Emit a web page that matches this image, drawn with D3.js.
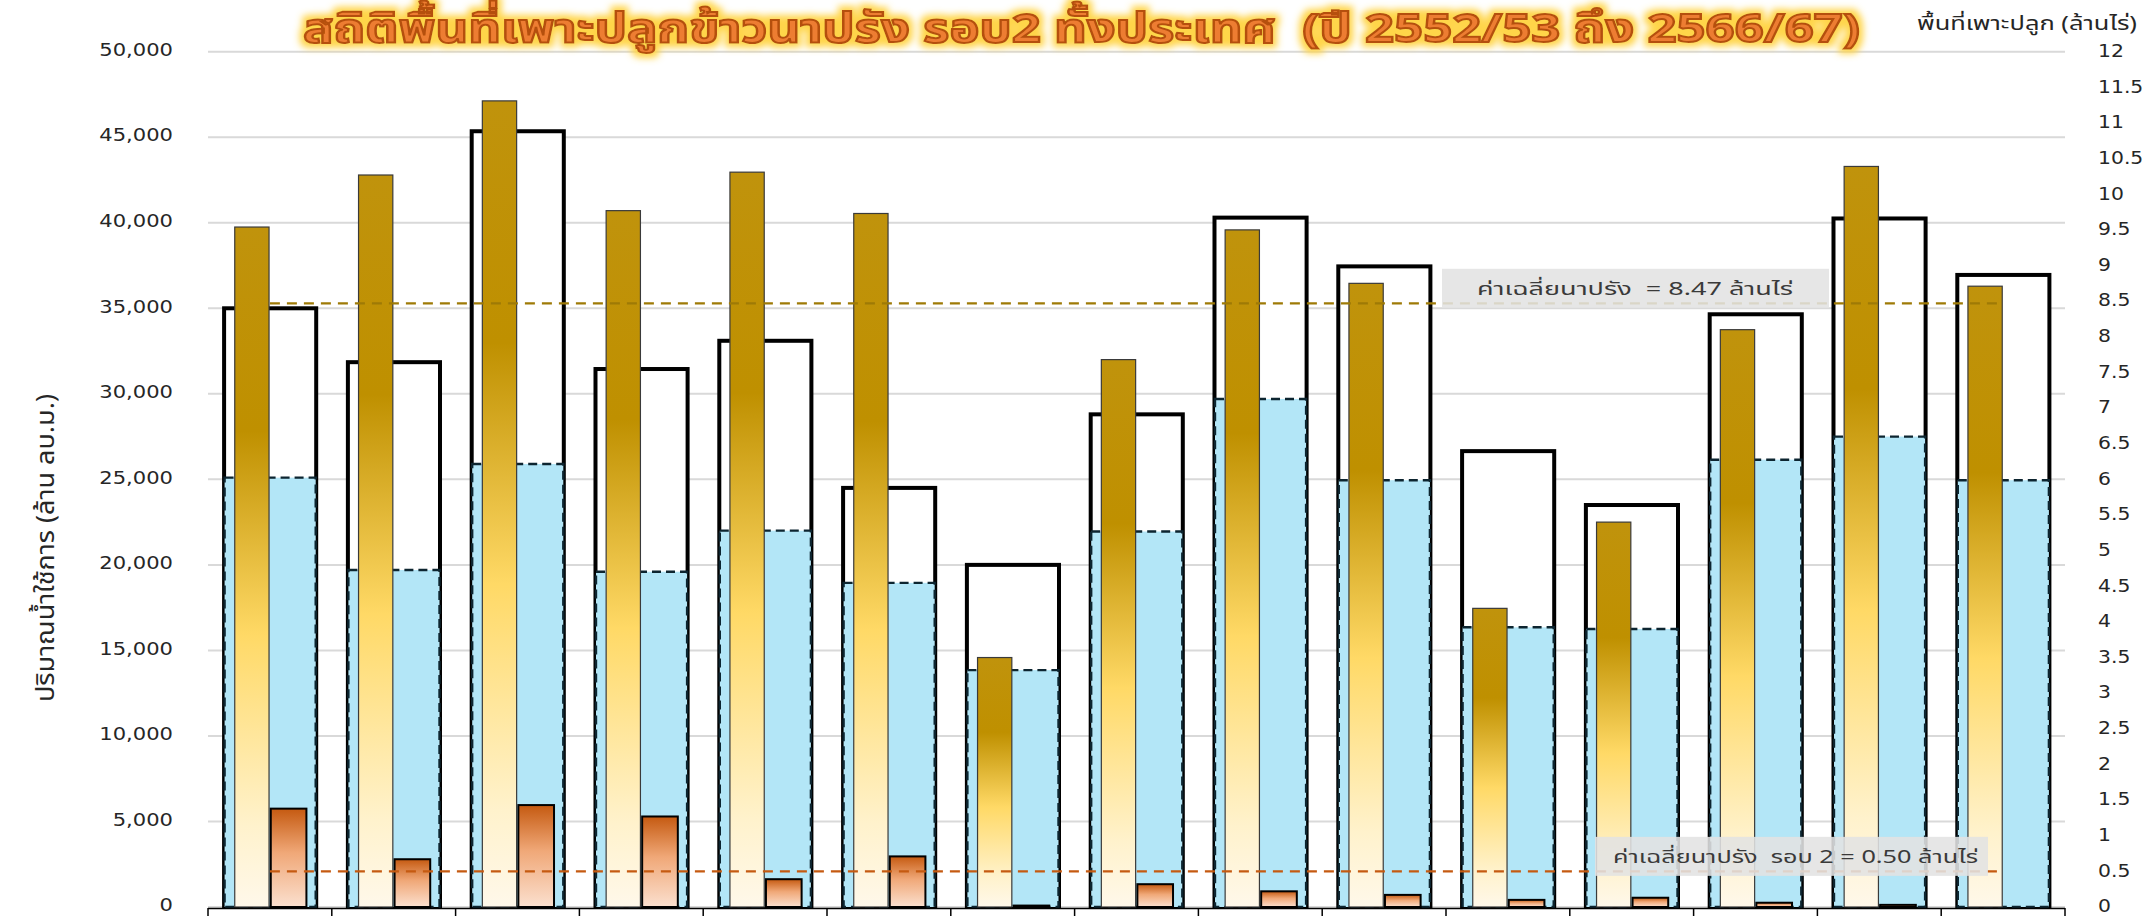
<!DOCTYPE html>
<html>
<head>
<meta charset="utf-8">
<script src="https://cdn.jsdelivr.net/npm/d3@7"></script>
<style>
  html, body { margin: 0; padding: 0; background: #ffffff; }
  svg { display: block; }
  text { white-space: pre; }
</style>
</head>
<body>
<svg id="chart" width="2144" height="916"></svg>
<script>
// ---------- data ----------
const categories = ["2552/53","2553/54","2554/55","2555/56","2556/57","2557/58","2558/59","2559/60","2560/61","2561/62","2562/63","2563/64","2564/65","2565/66","2566/67"];
// outlined bars (left axis, million m3)
const totalWater = [35000, 31850, 45350, 31450, 33100, 24500, 20000, 28800, 40300, 37450, 26650, 23500, 34650, 40250, 36950];
// blue fill (left axis, million m3)
const usableWater = [25100, 19700, 25900, 19600, 22000, 18950, 13850, 21950, 29700, 24950, 16350, 16250, 26150, 27500, 24950];
// gold bars: dry-season rice area (right axis, million rai)
const dryArea = [9.54, 10.27, 11.31, 9.77, 10.31, 9.73, 3.50, 7.68, 9.50, 8.75, 4.19, 5.40, 8.10, 10.39, 8.71];
// orange bars: round-2 area (right axis, million rai)
const round2Area = [1.38, 0.67, 1.43, 1.27, 0.39, 0.71, 0.02, 0.32, 0.22, 0.17, 0.10, 0.13, 0.06, 0.03, 0];
const avgDry = 8.47;
const avgRound2 = 0.50;
const leftTicks = [0, 5000, 10000, 15000, 20000, 25000, 30000, 35000, 40000, 45000, 50000];
const rightTicks = ["0","0.5","1","1.5","2","2.5","3","3.5","4","4.5","5","5.5","6","6.5","7","7.5","8","8.5","9","9.5","10","10.5","11","11.5","12"];

const titleText = "สถิติพื้นที่เพาะปลูกข้าวนาปรัง รอบ2 ทั้งประเทศ  (ปี 2552/53 ถึง 2566/67)";
const leftTitle = "ปริมาณน้ำใช้การ (ล้าน ลบ.ม.)";
const rightTitle = "พื้นที่เพาะปลูก (ล้านไร่)";
const avgDryLabel = "ค่าเฉลี่ยนาปรัง  = 8.47 ล้านไร่";
const avgR2Label = "ค่าเฉลี่ยนาปรัง  รอบ 2 = 0.50 ล้านไร่";

// ---------- layout ----------
const W = 2144, H = 916;
const plotL = 208, plotR = 2065, plotT = 51.7, plotB = 907;
const thaiFont = "Tahoma, 'Leelawadee UI', 'Noto Sans Thai', 'Noto Sans Thai UI', 'Noto Sans Thai Looped', Loma, Garuda, Waree, 'DejaVu Sans', sans-serif";
const numFont = "Verdana, 'DejaVu Sans', sans-serif";

const svg = d3.select("#chart");
const defs = svg.append("defs");

const gGold = defs.append("linearGradient").attr("id","gold").attr("x1",0).attr("y1",0).attr("x2",0).attr("y2",1);
[[0,"#c0930c"],[0.3,"#bf9000"],[0.6,"#ffd966"],[0.88,"#fff2cc"],[1,"#fff8ea"]].forEach(s =>
  gGold.append("stop").attr("offset",s[0]).attr("stop-color",s[1]));
const gOr = defs.append("linearGradient").attr("id","orng").attr("x1",0).attr("y1",0).attr("x2",0).attr("y2",1);
[[0,"#c55a11"],[0.45,"#f0a878"],[1,"#fbe0cf"]].forEach(s =>
  gOr.append("stop").attr("offset",s[0]).attr("stop-color",s[1]));

const glow = defs.append("filter").attr("id","glow").attr("x","-5%").attr("y","-40%").attr("width","110%").attr("height","180%");
glow.append("feMorphology").attr("in","SourceAlpha").attr("operator","dilate").attr("radius",3.5).attr("result","d");
glow.append("feGaussianBlur").attr("in","d").attr("stdDeviation",3.5).attr("result","b");
glow.append("feFlood").attr("flood-color","#ffd54a").attr("flood-opacity",1);
glow.append("feComposite").attr("in2","b").attr("operator","in").attr("result","g");
const fm = glow.append("feMerge");
fm.append("feMergeNode").attr("in","g");
fm.append("feMergeNode").attr("in","SourceGraphic");

// ---------- scales ----------
const x = d3.scaleBand().domain(categories).range([plotL, plotR]).padding(0);
const bw = x.bandwidth();
const yL = d3.scaleLinear().domain([0, 50000]).range([plotB, plotT]);
const yR = d3.scaleLinear().domain([0, 12]).range([plotB, plotT]);

function stretch(sel, k) {
  sel.each(function() {
    const len = this.getComputedTextLength();
    if (len > 0) d3.select(this).attr("textLength", len * k).attr("lengthAdjust", "spacingAndGlyphs");
  });
}
function fitWidth(sel, w) {
  sel.attr("textLength", w).attr("lengthAdjust", "spacingAndGlyphs");
}

// ---------- gridlines ----------
svg.append("g").selectAll("line").data(leftTicks).join("line")
  .attr("x1", plotL).attr("x2", plotR)
  .attr("y1", d => yL(d)).attr("y2", d => yL(d))
  .attr("stroke", "#d9d9d9").attr("stroke-width", 2);

// ---------- left axis ----------
const leftAxis = d3.axisLeft(yL).tickValues(leftTicks).tickSize(0).tickPadding(0)
  .tickFormat(d3.format(","));
const gLA = svg.append("g").attr("transform", `translate(173,-2)`).call(leftAxis);
gLA.select(".domain").remove();
gLA.selectAll("text").attr("font-family", numFont).attr("font-size", 18).attr("fill", "#262626");
stretch(gLA.selectAll("text"), 1.17);

// ---------- right axis ----------
const yR2 = d3.scalePoint().domain(rightTicks).range([plotB, plotT]);
const rightAxis = d3.axisRight(yR2).tickSize(0).tickPadding(0);
const gRA = svg.append("g").attr("transform", `translate(2098,-1)`).call(rightAxis);
gRA.select(".domain").remove();
gRA.selectAll("text").attr("font-family", numFont).attr("font-size", 18).attr("fill", "#262626");
stretch(gRA.selectAll("text"), 1.13);

// ---------- bars ----------
const groups = svg.append("g").selectAll("g").data(categories).join("g");

groups.append("rect")
  .attr("x", (d) => x(d) + bw * 0.13)
  .attr("width", bw * 0.744)
  .attr("y", (d,i) => yL(totalWater[i]))
  .attr("height", (d,i) => yL(0) - yL(totalWater[i]))
  .attr("fill", "#ffffff").attr("stroke", "#000").attr("stroke-width", 4);

groups.append("rect")
  .attr("x", (d) => x(d) + bw * 0.13 + 0.5)
  .attr("width", bw * 0.744 - 1)
  .attr("y", (d,i) => yL(usableWater[i]))
  .attr("height", (d,i) => yL(0) - yL(usableWater[i]))
  .attr("fill", "#b3e6f7").attr("stroke", "#0d2530").attr("stroke-width", 2.4)
  .attr("stroke-dasharray", "9,5");

groups.append("rect")
  .attr("x", (d) => x(d) + bw * 0.216)
  .attr("width", bw * 0.277)
  .attr("y", (d,i) => yR(dryArea[i]))
  .attr("height", (d,i) => yR(0) - yR(dryArea[i]))
  .attr("fill", "url(#gold)").attr("stroke", "#3a3a3a").attr("stroke-width", 1.2);

groups.filter((d,i) => round2Area[i] > 0).append("rect")
  .attr("x", (d) => x(d) + bw * 0.507)
  .attr("width", bw * 0.288)
  .attr("y", (d) => yR(round2Area[categories.indexOf(d)]))
  .attr("height", (d) => yR(0) - yR(round2Area[categories.indexOf(d)]))
  .attr("fill", "url(#orng)").attr("stroke", "#000").attr("stroke-width", 2);

// ---------- x axis table (labels fall below the visible area) ----------
svg.append("line").attr("x1", plotL).attr("x2", plotR).attr("y1", 908.5).attr("y2", 908.5)
  .attr("stroke", "#000").attr("stroke-width", 1.5);
svg.append("g").selectAll("line").data(categories.concat(["__end"])).join("line")
  .attr("x1", (d,i) => i < categories.length ? x(d) : plotR)
  .attr("x2", (d,i) => i < categories.length ? x(d) : plotR)
  .attr("y1", 908).attr("y2", 940)
  .attr("stroke", "#000").attr("stroke-width", 1.5);

// ---------- average lines ----------
const avgLine = (val) => d3.line()
  .x(d => x(d) + bw / 2)
  .y(() => yR(val));
svg.append("path").datum(categories).attr("d", avgLine(avgDry))
  .attr("fill", "none").attr("stroke", "#9e7a06").attr("stroke-width", 2.2).attr("stroke-dasharray", "10,7");
svg.append("path").datum(categories).attr("d", avgLine(avgRound2))
  .attr("fill", "none").attr("stroke", "#c55a11").attr("stroke-width", 2.4).attr("stroke-dasharray", "10,7");

// ---------- average labels ----------
function labelBox(text, val, x0, x1, tx, tw) {
  const yLine = yR(val);
  svg.append("rect").attr("x", x0).attr("y", yLine - 34.5).attr("width", x1 - x0).attr("height", 39)
    .attr("fill", "#e3e3e3").attr("fill-opacity", 0.88);
  const t = svg.append("text").attr("x", tx).attr("y", yLine - 8.5)
    .attr("font-family", thaiFont).attr("font-size", 18).attr("fill", "#3a3a3a").text(text);
  fitWidth(t, tw);
}
labelBox(avgDryLabel, avgDry, 1442, 1829, 1477, 316);
labelBox(avgR2Label, avgRound2, 1595, 1988, 1613, 365);

// ---------- titles ----------
const title = svg.append("text").attr("x", 303).attr("y", 42)
  .attr("font-family", thaiFont).attr("font-size", 40).attr("font-weight", "bold")
  .attr("fill", "#ed7d31").attr("stroke", "#b5500e").attr("stroke-width", 2)
  .attr("filter", "url(#glow)").text(titleText);
fitWidth(title, 1557);

const rt = svg.append("text").attr("x", 1917).attr("y", 30)
  .attr("font-family", thaiFont).attr("font-size", 19).attr("fill", "#262626").text(rightTitle);
fitWidth(rt, 220);

const lt = svg.append("text").attr("transform", "translate(54,548) rotate(-90)")
  .attr("text-anchor", "middle")
  .attr("font-family", thaiFont).attr("font-size", 25).attr("fill", "#262626").text(leftTitle);
fitWidth(lt, 308);
</script>
</body>
</html>
